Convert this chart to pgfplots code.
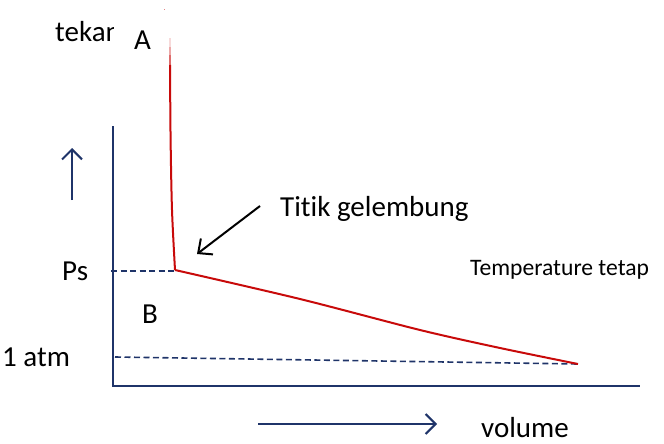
\documentclass[border=0pt]{standalone}
\usepackage{pgfplots}
\pgfplotsset{compat=1.18}
\usepackage{fontspec}
\setmainfont[Ligatures={NoCommon}]{Carlito}
\usetikzlibrary{arrows.meta}
\definecolor{navy}{RGB}{31,52,105}
\definecolor{dred}{RGB}{200,10,10}
\begin{document}
\begin{tikzpicture}
\begin{axis}[width=664pt,height=444pt,scale only axis,
  xmin=0,xmax=664,ymin=0,ymax=444,y dir=reverse,
  hide axis,clip=false]
\path (axis cs:0,0) rectangle (axis cs:664,444);
% axes frame
\addplot[navy,line width=2.5pt] coordinates {(113,126) (113,386) (640,386)};
% dashed guides
\addplot[navy,line width=1.6pt,dash pattern=on 6pt off 3.5pt] coordinates {(111,271) (175,271)};
\addplot[navy,line width=1.6pt,dash pattern=on 6pt off 3.5pt] coordinates {(115,357) (578,364)};
% red curve
\addplot[dred,line width=2pt,smooth] coordinates {(170,65) (170.6,140) (172,210) (175,270)};
\addplot[dred,line width=2pt,smooth] coordinates {(175,270) (300,299) (420,330) (500,348) (578,364)};
% fade above A
\addplot[dred,opacity=0.6,line width=2pt] coordinates {(170,65) (170,55)};
\addplot[dred,opacity=0.35,line width=2pt] coordinates {(170,55) (170,47)};
\addplot[dred,opacity=0.15,line width=2pt] coordinates {(170,47) (170,38)};
\addplot[dred,opacity=0.5,line width=1pt] coordinates {(164,10) (165,10)};
% arrows
\addplot[navy,line width=2pt,-{Straight Barb[length=10pt,width=20pt]}] coordinates {(72,200) (72,148)};
\addplot[navy,line width=2pt,-{Straight Barb[length=10pt,width=20pt]}] coordinates {(258,424) (437,424)};
\addplot[black,line width=2pt,-{Straight Barb[length=11pt,width=20pt]}] coordinates {(260,206) (197,254)};
% texts
\begin{scope}
\clip (axis cs:0,0) rectangle (axis cs:113,80);
\node[anchor=base west,font=\fontsize{29}{35}\selectfont,inner sep=0pt] at (axis cs:55,42) {tekan};
\end{scope}
\node[anchor=base west,font=\fontsize{29}{35}\selectfont,inner sep=0pt] at (axis cs:134,50) {A};
\node[anchor=base west,font=\fontsize{29}{35}\selectfont,inner sep=0pt] at (axis cs:62,280) {Ps};
\node[anchor=base west,font=\fontsize{29}{35}\selectfont,inner sep=0pt] at (axis cs:142,323) {B};
\node[anchor=base west,font=\fontsize{29}{35}\selectfont,inner sep=0pt] at (axis cs:2,366) {1 atm};
\node[anchor=base west,font=\fontsize{29}{35}\selectfont,inner sep=0pt] at (axis cs:280,216) {Titik gelembung};
\node[anchor=base west,font=\fontsize{23.6}{28}\selectfont,inner sep=0pt] at (axis cs:470,275) {Temperature tetap};
\node[anchor=base west,font=\fontsize{29}{35}\selectfont,inner sep=0pt] at (axis cs:481,437) {volume};
\end{axis}
\end{tikzpicture}
\end{document}
